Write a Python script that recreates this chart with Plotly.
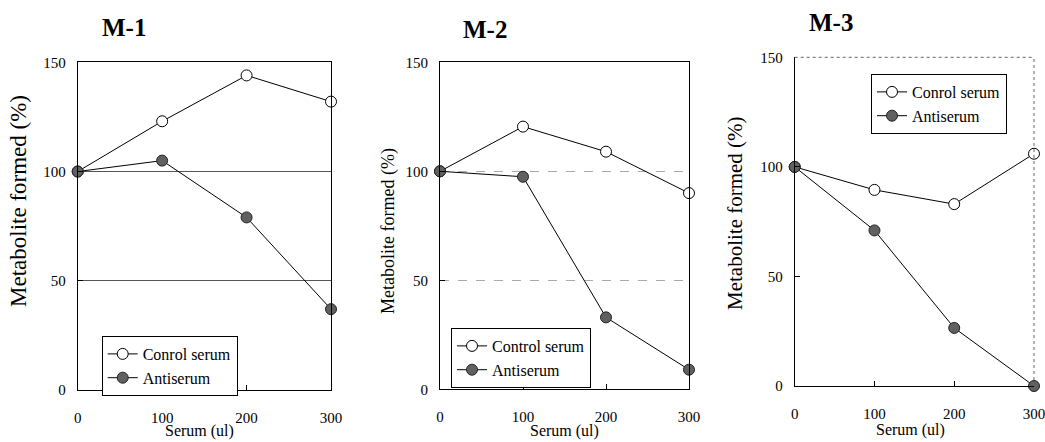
import plotly.graph_objects as go

W, H = 1045, 442

serum = [0, 100, 200, 300]
panels = ["M-1", "M-2", "M-3"]
control = {
    "M-1": [100, 123, 144, 132],
    "M-2": [100, 120.5, 109, 90],
    "M-3": [100, 89.5, 83, 106],
}
anti = {
    "M-1": [100, 105, 79, 37],
    "M-2": [100, 97.5, 33, 9],
    "M-3": [100, 71, 26.5, 0],
}
control_names = {"M-1": "Conrol serum", "M-2": "Control serum", "M-3": "Conrol serum"}
anti_name = "Antiserum"
y_ticks = [0, 50, 100, 150]
x_ticks = [0, 100, 200, 300]
x_title = "Serum (ul)"
y_title = "Metabolite formed (%)"

# pixel boxes of the plot areas (left, right, top, bottom)
boxes = [(77.7, 331, 62.3, 390), (440, 689, 62.3, 389.3), (794.7, 1034, 57.3, 386)]

def px(x):
    return x / W

def py(y):
    return 1 - y / H

FONT = "Liberation Serif"

fig = go.Figure()

legend_names = ["legend", "legend2", "legend3"]
for i, p in enumerate(panels):
    xa = "x" if i == 0 else f"x{i+1}"
    ya = "y" if i == 0 else f"y{i+1}"
    fig.add_trace(go.Scatter(
        x=serum, y=control[p], mode="lines+markers", name=control_names[p],
        xaxis=xa, yaxis=ya, legend=legend_names[i], cliponaxis=False,
        line=dict(color="black", width=1),
        marker=dict(symbol="circle", size=11, color="white",
                    line=dict(color="black", width=1)),
    ))
    fig.add_trace(go.Scatter(
        x=serum, y=anti[p], mode="lines+markers", name=anti_name,
        xaxis=xa, yaxis=ya, legend=legend_names[i], cliponaxis=False,
        line=dict(color="black", width=1),
        marker=dict(symbol="circle", size=11, color="#606060",
                    line=dict(color="#222222", width=1)),
    ))

layout = dict(
    width=W, height=H, margin=dict(l=0, r=0, t=0, b=0, autoexpand=False),
    paper_bgcolor="white", plot_bgcolor="white",
    font=dict(family=FONT, color="black", size=14),
    showlegend=True,
)

grid_styles = [
    dict(showgrid=True, gridcolor="#555555", gridwidth=1, griddash="solid"),
    dict(showgrid=True, gridcolor="#aaaaaa", gridwidth=1, griddash="dash"),
    dict(showgrid=False),
]

for i, (l, r, t, b) in enumerate(boxes):
    xk = "xaxis" if i == 0 else f"xaxis{i+1}"
    yk = "yaxis" if i == 0 else f"yaxis{i+1}"
    ya = "y" if i == 0 else f"y{i+1}"
    xa = "x" if i == 0 else f"x{i+1}"
    mirror = i < 2
    layout[xk] = dict(
        domain=[px(l), px(r)], anchor=ya, range=[0, 300],
        tickvals=x_ticks, ticks="inside", ticklen=5, tickcolor="black",
        showline=True, linecolor="black", linewidth=1, mirror=mirror,
        showgrid=False, zeroline=False, ticklabelstandoff=14,
        ticklabeloverflow="allow",
        tickfont=dict(size=15, family=FONT),
        fixedrange=True, automargin=False,
    )
    layout[yk] = dict(
        domain=[py(b), py(t)], anchor=xa, range=[0, 150],
        tickvals=y_ticks, ticks="inside", ticklen=5, tickcolor="black",
        showline=True, linecolor="black", linewidth=1, mirror=mirror,
        zeroline=False, ticklabelstandoff=8,
        ticklabeloverflow="allow",
        tickfont=dict(size=15, family=FONT),
        fixedrange=True, automargin=False,
        **grid_styles[i],
    )

# legends
legend_boxes = [(101.7, 336), (451, 328), (871, 74)]
for i, (lx, ly) in enumerate(legend_boxes):
    layout[legend_names[i]] = dict(
        x=px(lx), y=py(ly), xanchor="left", yanchor="top",
        bgcolor="white", bordercolor="black", borderwidth=1,
        font=dict(size=16, family=FONT), itemwidth=30, tracegroupgap=0,
        traceorder="normal",
    )

fig.update_layout(**layout)

# panel 3 top/right dotted frame
fig.add_shape(type="line", xref="x3 domain", yref="y3 domain", x0=0, x1=1, y0=1, y1=1,
              line=dict(color="#666666", width=1, dash="dot"))
fig.add_shape(type="line", xref="x3 domain", yref="y3 domain", x0=1, x1=1, y0=0, y1=1,
              line=dict(color="#666666", width=1, dash="dot"))

# titles
title_pos = [(123.5, 27.5), (485, 30), (830.5, 22.5)]
for i, (tx, ty) in enumerate(title_pos):
    fig.add_annotation(x=px(tx), y=py(ty), xref="paper", yref="paper",
                       text=f"<b>{panels[i]}</b>", showarrow=False,
                       xanchor="center", yanchor="middle",
                       font=dict(size=25, family=FONT, color="black"))

# axis titles
ytitle_pos = [(19, 201, 23), (388, 231, 18), (735, 213, 21)]
for i, (tx, ty, fs) in enumerate(ytitle_pos):
    fig.add_annotation(x=px(tx), y=py(ty), xref="paper", yref="paper",
                       text=y_title, showarrow=False, textangle=-90,
                       xanchor="center", yanchor="middle",
                       font=dict(size=fs, family=FONT, color="black"))
xtitle_pos = [(199, 431), (564, 431), (910, 430)]
for i, (tx, ty) in enumerate(xtitle_pos):
    fig.add_annotation(x=px(tx), y=py(ty), xref="paper", yref="paper",
                       text=x_title, showarrow=False,
                       xanchor="center", yanchor="middle",
                       font=dict(size=16, family=FONT, color="black"))

fig.write_html("out.html", config={"displayModeBar": False},
               post_script="document.body.style.margin='0';")
